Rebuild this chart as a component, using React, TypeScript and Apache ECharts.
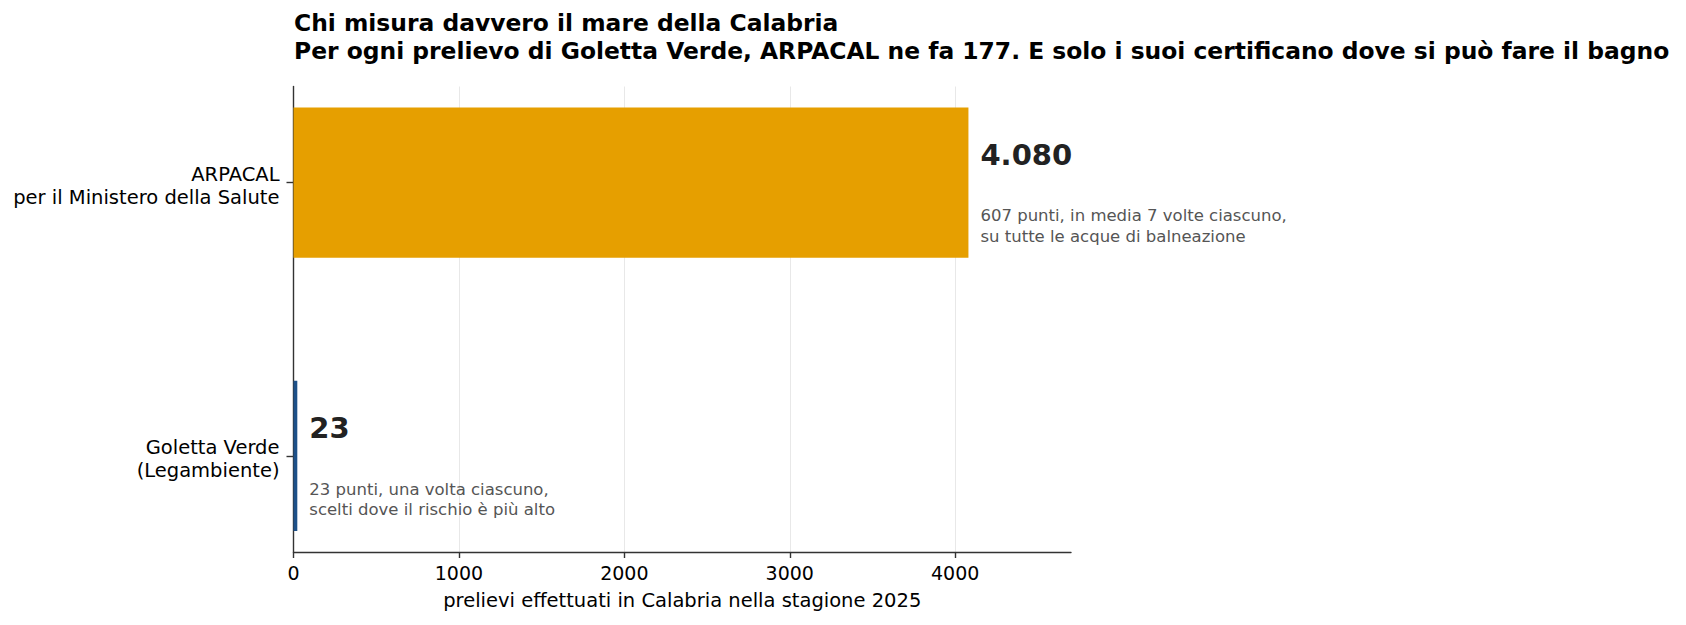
import React, { useEffect, useRef } from 'react';
import * as echarts from 'echarts';

// dati (dal basso verso l'alto)
const categorie = ['Goletta Verde\n(Legambiente)', 'ARPACAL\nper il Ministero della Salute'];
const prelievi = [23, 4080];
const colori = ['#1d5088', '#E69F00'];
const note = [
  '23 punti, una volta ciascuno,\nscelti dove il rischio è più alto',
  '607 punti, in media 7 volte ciascuno,\nsu tutte le acque di balneazione',
];
const tickX = [0, 1000, 2000, 3000, 4000];

const FONT = '"DejaVu Sans", sans-serif';

const formatIt = (n: number) => String(n).replace(/\B(?=(\d{3})+(?!\d))/g, '.');

const App: React.FC = () => {
  const chartRef = useRef<HTMLDivElement | null>(null);

  useEffect(() => {
    document.body.style.margin = '0';
    const chart = echarts.init(chartRef.current!, null, { renderer: 'svg' });

    const option: any = {
      animation: false,
      backgroundColor: '#ffffff',
      textStyle: { fontFamily: FONT },
      title: {
        text: 'Chi misura davvero il mare della Calabria\nPer ogni prelievo di Goletta Verde, ARPACAL ne fa 177. E solo i suoi certificano dove si può fare il bagno',
        left: 294,
        top: 9,
        padding: 0,
        textStyle: {
          fontFamily: FONT,
          fontSize: 23.4,
          fontWeight: 'bold',
          color: '#000',
          lineHeight: 28,
        },
      },
      grid: { left: 293.5, top: 86.5, right: 615, bottom: 73, containLabel: false },
      xAxis: {
        type: 'value',
        min: 0,
        max: 4700,
        interval: 1000,
        name: 'prelievi effettuati in Calabria nella stagione 2025',
        nameLocation: 'middle',
        nameGap: 38,
        nameTextStyle: { fontFamily: FONT, fontSize: 19.5, color: '#000' },
        axisLine: { show: true, onZero: false, lineStyle: { color: '#333', width: 1.4 } },
        axisTick: { show: true, length: 6, lineStyle: { color: '#333', width: 1.4 }, customValues: tickX },
        axisLabel: {
          fontFamily: FONT,
          fontSize: 19,
          color: '#000',
          margin: 11,
          customValues: tickX,
          formatter: (v: number) => String(v),
        },
        splitLine: { show: true, lineStyle: { color: '#e8e8e8', width: 1 } },
      },
      yAxis: {
        type: 'value',
        min: -0.352,
        max: 1.352,
        axisLine: { show: true, onZero: false, lineStyle: { color: '#333', width: 1.4 } },
        axisTick: { show: true, length: 7, lineStyle: { color: '#333', width: 1.4 }, customValues: [0, 1] },
        axisLabel: {
          fontFamily: FONT,
          fontSize: 19.5,
          lineHeight: 23,
          color: '#000',
          align: 'right',
          margin: 14,
          // le etichette stanno un filo sotto la tacca, come nell'originale
          customValues: [-0.012, 0.988],
          formatter: (v: number) => categorie[Math.round(v)] ?? '',
        },
        splitLine: { show: false },
      },
      series: [
        {
          type: 'custom',
          clip: false,
          data: prelievi.map((v, i) => [v, i]),
          renderItem: (params: any, api: any) => {
            const i = api.value(1);
            const v = api.value(0);
            const start = api.coord([0, i]);
            const end = api.coord([v, i]);
            const h = api.size([0, 0.55])[1];
            const tx = end[0] + 12;
            return {
              type: 'group',
              children: [
                {
                  type: 'rect',
                  shape: { x: start[0], y: start[1] - h / 2, width: end[0] - start[0], height: h },
                  style: { fill: colori[i] },
                },
                {
                  type: 'text',
                  x: tx,
                  y: start[1] - 42,
                  style: {
                    text: formatIt(v),
                    fontFamily: FONT,
                    fontSize: 29,
                    fontWeight: 'bold',
                    lineHeight: 29,
                    fill: '#222',
                    textAlign: 'left',
                    textVerticalAlign: 'top',
                  },
                },
                {
                  type: 'text',
                  x: tx,
                  y: start[1] + 23,
                  style: {
                    text: note[i],
                    fontFamily: FONT,
                    fontSize: 16.5,
                    lineHeight: 20.5,
                    fill: '#555',
                    textAlign: 'left',
                    textVerticalAlign: 'top',
                  },
                },
              ],
            };
          },
        },
      ],
    };

    chart.setOption(option);
    return () => {
      chart.dispose();
    };
  }, []);

  return <div ref={chartRef} style={{ width: '1686px', height: '625px' }} />;
};

export default App;
